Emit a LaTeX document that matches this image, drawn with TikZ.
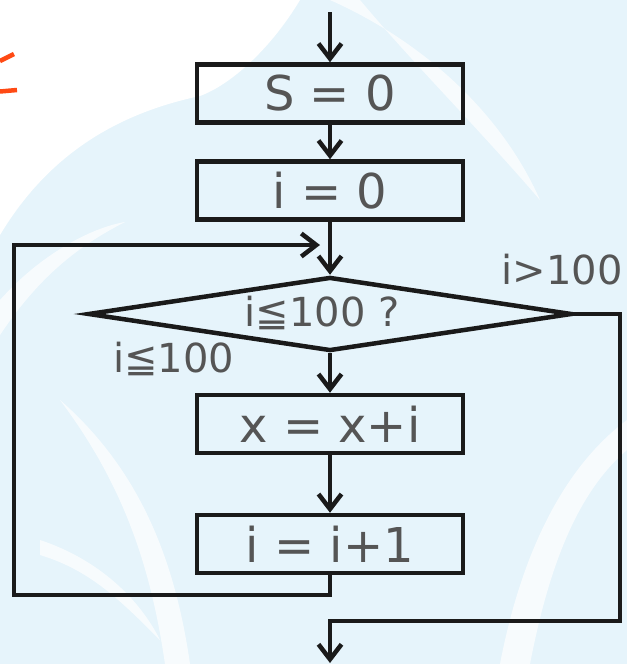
\documentclass[tikz,border=0pt]{standalone}
\usepackage{fontspec}
\setmainfont{DejaVu Sans}
\usetikzlibrary{arrows.meta,shapes.geometric}
\definecolor{bgblue}{HTML}{E6F4FB}
\definecolor{ink}{HTML}{1A1A1A}
\definecolor{txt}{HTML}{555555}
\definecolor{orng}{HTML}{FF4A14}
\begin{document}
\begin{tikzpicture}[x=1pt,y={(0pt,-1pt)},
  box/.style={draw=ink,line width=4.5pt,minimum width=266pt,minimum height=58pt,inner sep=0pt,font=\fontsize{48}{48}\selectfont,text=txt},
  dec/.style={draw=ink,line width=4.5pt,shape=diamond,minimum width=484pt,minimum height=74pt,inner sep=0pt,aspect=6.5},
  lbl/.style={font=\fontsize{40}{40}\selectfont,text=txt,inner sep=0pt},
  flow/.style={draw=ink,line width=4.5pt,line join=miter},
  arr/.style={flow,-{Straight Barb[length=15pt,width=23pt]}},
  swoosh/.style={fill=white,opacity=0.7}
]
\useasboundingbox (0,0) rectangle (627,664);
% background
\fill[bgblue] (0,0) rectangle (627,664);
\fill[white] (0,0) -- (300,0) .. controls (270,50) and (230,85) .. (200,96) .. controls (110,115) and (45,160) .. (0,235) -- cycle;
\fill[swoosh] (0,300) .. controls (40,255) and (90,228) .. (125,222) .. controls (80,245) and (40,275) .. (0,335) -- cycle;
\fill[swoosh] (330,0) .. controls (420,40) and (500,110) .. (540,200) .. controls (480,130) and (410,60) .. (360,0) -- cycle;
\fill[swoosh] (60,400) .. controls (120,480) and (150,560) .. (165,664) -- (190,664) .. controls (175,560) and (140,470) .. (60,400) -- cycle;
\fill[swoosh] (627,420) .. controls (560,470) and (520,560) .. (500,664) -- (530,664) .. controls (550,560) and (580,490) .. (627,450) -- cycle;
\fill[swoosh] (40,540) .. controls (100,560) and (140,600) .. (160,640) .. controls (120,600) and (90,570) .. (40,555) -- cycle;
% orange fragment
\draw[orng,line width=4.5pt] (0,61) -- (14,54);
\draw[orng,line width=4.5pt] (0,91.5) -- (17,90);
% nodes
\node[box] (s) at (330,93.5) {S = 0};
\node[box] (i0) at (330,190.5) {i = 0};
\node[dec] (d) at (330,314) {};
\node[lbl] (dq) at (322,313) {i≦100 ?};
\node[lbl,anchor=east] (gt) at (623,270) {i>100};
\node[lbl,anchor=west] (le) at (113,359) {i≦100};
\node[box] (xb) at (330,424) {x = x+i};
\node[box] (ib) at (330,544) {i = i+1};
% coordinates
\coordinate (start) at (330,12);
\coordinate (jn) at (320,245);
\coordinate (lc) at (14,595);
\coordinate (rc) at (620,621);
\coordinate (out) at (330,663);
% connectors
\draw[arr] (start) -- (s.north);
\draw[arr] (s.south) -- (i0.north);
\draw[arr] (i0.south) -- (d.north);
\draw[arr] (d.south) -- (xb.north);
\draw[arr] (xb.south) -- (ib.north);
\draw[arr] (ib.south) |- (lc) |- (jn);
\draw[arr] (d.east) -| (rc) -| (out);
\end{tikzpicture}
\end{document}
